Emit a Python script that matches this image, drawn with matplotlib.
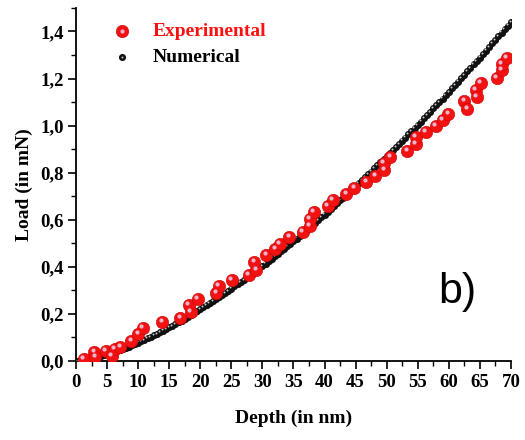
import matplotlib.pyplot as plt
from matplotlib.ticker import MultipleLocator, FuncFormatter
from matplotlib.transforms import offset_copy
from matplotlib.legend_handler import HandlerTuple

# numerical curve (every 0.5 nm)
num_depth = [0.0, 0.5, 1.0, 1.5, 2.0, 2.5, 3.0, 3.5, 4.0, 4.5, 5.0, 5.5, 6.0, 6.5, 7.0, 7.5,
             8.0, 8.5, 9.0, 9.5, 10.0, 10.5, 11.0, 11.5, 12.0, 12.5, 13.0, 13.5, 14.0, 14.5,
             15.0, 15.5, 16.0, 16.5, 17.0, 17.5, 18.0, 18.5, 19.0, 19.5, 20.0, 20.5, 21.0,
             21.5, 22.0, 22.5, 23.0, 23.5, 24.0, 24.5, 25.0, 25.5, 26.0, 26.5, 27.0, 27.5,
             28.0, 28.5, 29.0, 29.5, 30.0, 30.5, 31.0, 31.5, 32.0, 32.5, 33.0, 33.5, 34.0,
             34.5, 35.0, 35.5, 36.0, 36.5, 37.0, 37.5, 38.0, 38.5, 39.0, 39.5, 40.0, 40.5,
             41.0, 41.5, 42.0, 42.5, 43.0, 43.5, 44.0, 44.5, 45.0, 45.5, 46.0, 46.5, 47.0,
             47.5, 48.0, 48.5, 49.0, 49.5, 50.0, 50.5, 51.0, 51.5, 52.0, 52.5, 53.0, 53.5,
             54.0, 54.5, 55.0, 55.5, 56.0, 56.5, 57.0, 57.5, 58.0, 58.5, 59.0, 59.5, 60.0,
             60.5, 61.0, 61.5, 62.0, 62.5, 63.0, 63.5, 64.0, 64.5, 65.0, 65.5, 66.0, 66.5,
             67.0, 67.5, 68.0, 68.5, 69.0, 69.5, 70.0]
num_load = [0.000, 0.001, 0.003, 0.005, 0.007, 0.010, 0.013, 0.016, 0.020, 0.024, 0.028,
            0.032, 0.036, 0.041, 0.046, 0.051, 0.056, 0.061, 0.066, 0.072, 0.078, 0.084,
            0.090, 0.096, 0.102, 0.109, 0.115, 0.122, 0.129, 0.136, 0.143, 0.150, 0.157,
            0.165, 0.172, 0.180, 0.188, 0.196, 0.204, 0.212, 0.220, 0.228, 0.237, 0.245,
            0.254, 0.263, 0.271, 0.280, 0.289, 0.298, 0.308, 0.317, 0.326, 0.336, 0.345,
            0.355, 0.365, 0.374, 0.384, 0.394, 0.404, 0.414, 0.425, 0.435, 0.445, 0.456,
            0.466, 0.477, 0.488, 0.499, 0.509, 0.520, 0.531, 0.543, 0.554, 0.565, 0.576,
            0.588, 0.599, 0.611, 0.622, 0.634, 0.646, 0.658, 0.670, 0.682, 0.694, 0.706,
            0.718, 0.730, 0.743, 0.755, 0.768, 0.780, 0.793, 0.805, 0.818, 0.831, 0.844,
            0.857, 0.870, 0.883, 0.896, 0.909, 0.923, 0.936, 0.949, 0.963, 0.976, 0.990,
            1.003, 1.017, 1.031, 1.045, 1.059, 1.073, 1.087, 1.101, 1.115, 1.129, 1.143,
            1.158, 1.172, 1.187, 1.201, 1.216, 1.230, 1.245, 1.260, 1.274, 1.289, 1.304,
            1.319, 1.334, 1.349, 1.364, 1.379, 1.395, 1.410, 1.425, 1.441]

# experimental points
exp_depth = [1.2, 2.9, 3.1, 4.8, 5.7, 6.2, 7.1, 8.9, 10.0, 10.7, 13.9, 16.8, 18.5, 18.1,
             19.6, 22.6, 23.0, 25.1, 27.8, 29.0, 28.7, 30.6, 32.1, 32.8, 34.3, 36.5, 37.6,
             37.6, 38.3, 40.5, 41.3, 43.5, 44.8, 46.7, 48.2, 49.6, 49.5, 50.6, 53.3, 54.7,
             54.7, 56.3, 57.9, 59.0, 59.9, 62.5, 63.0, 64.4, 64.5, 65.2, 67.7, 68.5, 68.5,
             69.4]
exp_load = [0.008, 0.037, 0.018, 0.044, 0.021, 0.049, 0.061, 0.085, 0.113, 0.140, 0.164,
            0.184, 0.208, 0.240, 0.265, 0.287, 0.318, 0.344, 0.366, 0.386, 0.421, 0.450,
            0.474, 0.499, 0.525, 0.549, 0.573, 0.604, 0.633, 0.660, 0.686, 0.709, 0.735,
            0.761, 0.788, 0.810, 0.843, 0.867, 0.891, 0.921, 0.952, 0.973, 0.997, 1.025,
            1.051, 1.104, 1.072, 1.153, 1.121, 1.181, 1.202, 1.235, 1.263, 1.288]

plt.rcParams['font.family'] = 'Liberation Serif'
plt.rcParams['font.weight'] = 'bold'

fig = plt.figure(figsize=(5.25, 4.4), dpi=100)
ax = fig.add_axes([0.145, 0.1795, 0.828, 0.8025])

nb = ax.scatter(num_depth, num_load, s=26, color='#111111', linewidths=0, zorder=2)
nh = ax.scatter(num_depth, num_load, s=2, color='#c8c8c8', linewidths=0, zorder=3,
                transform=offset_copy(ax.transData, fig=fig, x=-1.2, y=1.2, units='dots'))
eb = ax.scatter(exp_depth, exp_load, s=80, color='#f21212', edgecolors='#d00000',
                linewidths=0.4, zorder=4)
eh = ax.scatter(exp_depth, exp_load, s=9, color='#eab4cc', linewidths=0, zorder=5,
                transform=offset_copy(ax.transData, fig=fig, x=-1.6, y=2.0, units='dots'))

ax.set_xlim(0, 70)
ax.set_ylim(0, 1.5)
ax.spines['top'].set_visible(False)
ax.spines['right'].set_visible(False)
for sp in ['left', 'bottom']:
    ax.spines[sp].set_linewidth(1.3)

ax.xaxis.set_major_locator(MultipleLocator(5))
ax.xaxis.set_minor_locator(MultipleLocator(2.5))
ax.yaxis.set_major_locator(MultipleLocator(0.2))
ax.yaxis.set_minor_locator(MultipleLocator(0.1))
ax.yaxis.set_major_formatter(FuncFormatter(lambda v, p: ('%.1f' % v).replace('.', ',')))
ax.tick_params(which='major', direction='out', length=6, width=1.2, labelsize=13.5, pad=3)
ax.tick_params(which='minor', direction='out', length=3.5, width=1.0)

ax.set_xlabel('Depth (in nm)', fontsize=14, fontweight='bold', labelpad=14)
ax.set_ylabel('Load (in mN)', fontsize=14, fontweight='bold', labelpad=5)

ax.text(0.878, 0.195, 'b)', transform=ax.transAxes, fontsize=31, fontweight='normal',
        family='Liberation Sans', ha='center', va='center')

leg = ax.legend([(eb, eh), (nb, nh)], ['Experimental', 'Numerical'],
                handler_map={tuple: HandlerTuple(ndivide=1, pad=0)},
                loc='upper left', bbox_to_anchor=(0.065, 0.98), frameon=False,
                fontsize=14, handlelength=1.0, handletextpad=1.1, labelspacing=0.4,
                labelcolor=['#ff1010', 'black'], borderaxespad=0)

fig.savefig('out.png', dpi=100)
